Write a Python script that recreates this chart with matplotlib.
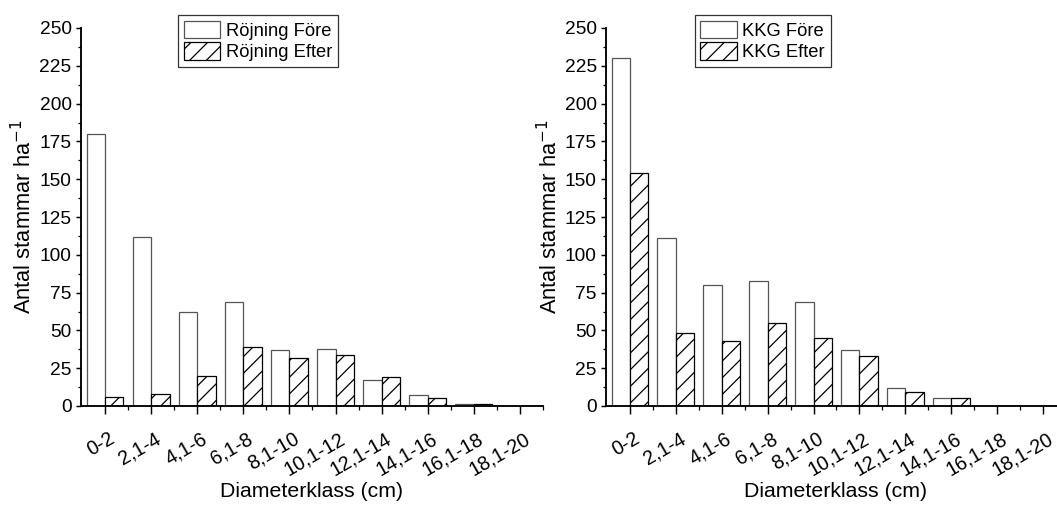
import numpy as np
import matplotlib.pyplot as plt
from matplotlib.ticker import MultipleLocator, FixedLocator
import matplotlib.transforms as mtransforms

plt.rcParams['font.family'] = ['Liberation Sans', 'DejaVu Sans']
plt.rcParams['hatch.linewidth'] = 0.6

# Data
klasser = ['0-2', '2,1-4', '4,1-6', '6,1-8', '8,1-10', '10,1-12',
           '12,1-14', '14,1-16', '16,1-18', '18,1-20']
rojning_fore = [180, 112, 62, 69, 37, 38, 17, 7, 1, 0]
rojning_efter = [6, 8, 20, 39, 32, 34, 19, 5, 1, 0]
kkg_fore = [230, 111, 80, 83, 69, 37, 12, 5, 0, 0]
kkg_efter = [154, 48, 43, 55, 45, 33, 9, 5, 0, 0]

DPI = 150
fig = plt.figure(figsize=(1057 / DPI, 506 / DPI), dpi=DPI)

ax1 = fig.add_axes([81 / 1057, 100 / 506, 462 / 1057, 378 / 506])
ax2 = fig.add_axes([606 / 1057, 100 / 506, 460 / 1057, 378 / 506])

panels = [
    (ax1, rojning_fore, rojning_efter, 'Röjning Före', 'Röjning Efter', 0.21),
    (ax2, kkg_fore, kkg_efter, 'KKG Före', 'KKG Efter', 0.193),
]

x = np.arange(len(klasser))
w = 0.4

for ax, fore, efter, lab_f, lab_e, leg_x in panels:
    ax.bar(x - w / 2, fore, width=w, facecolor='white', edgecolor='#555555',
           linewidth=0.6, label=lab_f)
    ax.bar(x + w / 2, efter, width=w, facecolor='white', edgecolor='black',
           linewidth=0.6, hatch='///', label=lab_e)

    ax.set_xlim(-0.52, 9.5)
    ax.set_ylim(0, 250)
    ax.yaxis.set_major_locator(MultipleLocator(25))
    ax.yaxis.set_minor_locator(MultipleLocator(12.5))
    ax.set_xticks(x)
    ax.xaxis.set_minor_locator(FixedLocator(x + 0.5))

    for s in ['top', 'right']:
        ax.spines[s].set_visible(False)
    for s in ['left', 'bottom']:
        ax.spines[s].set_linewidth(0.9)

    ax.tick_params(axis='y', which='major', length=2.5, width=0.7, pad=2,
                   labelsize=9.2)
    ax.tick_params(axis='y', which='minor', length=1.5, width=0.6)
    ax.tick_params(axis='x', which='major', length=4, width=0.7, pad=7)
    ax.tick_params(axis='x', which='minor', length=2, width=0.6)

    ax.set_xticklabels(klasser, rotation=30, ha='right', fontsize=9.5)
    offset = mtransforms.ScaledTranslation(13 / DPI, 0, fig.dpi_scale_trans)
    for lbl in ax.get_xticklabels():
        lbl.set_transform(lbl.get_transform() + offset)

    ax.set_ylabel('Antal stammar ha$^{-1}$', fontsize=10.5)
    ax.yaxis.set_label_coords(-0.096, 0.5)
    ax.set_xlabel('Diameterklass (cm)', fontsize=10.2)
    ax.xaxis.set_label_coords(0.5, -0.2)

    leg = ax.legend(loc='upper left', bbox_to_anchor=(leg_x, 1.034),
                    fontsize=8.8, frameon=True, fancybox=False,
                    edgecolor='#333333', framealpha=1, borderpad=0.3,
                    handlelength=2.0, handleheight=1.1, labelspacing=0.15,
                    handletextpad=0.3, borderaxespad=0)
    leg.get_frame().set_linewidth(0.6)

fig.savefig('out.png', dpi=DPI)
